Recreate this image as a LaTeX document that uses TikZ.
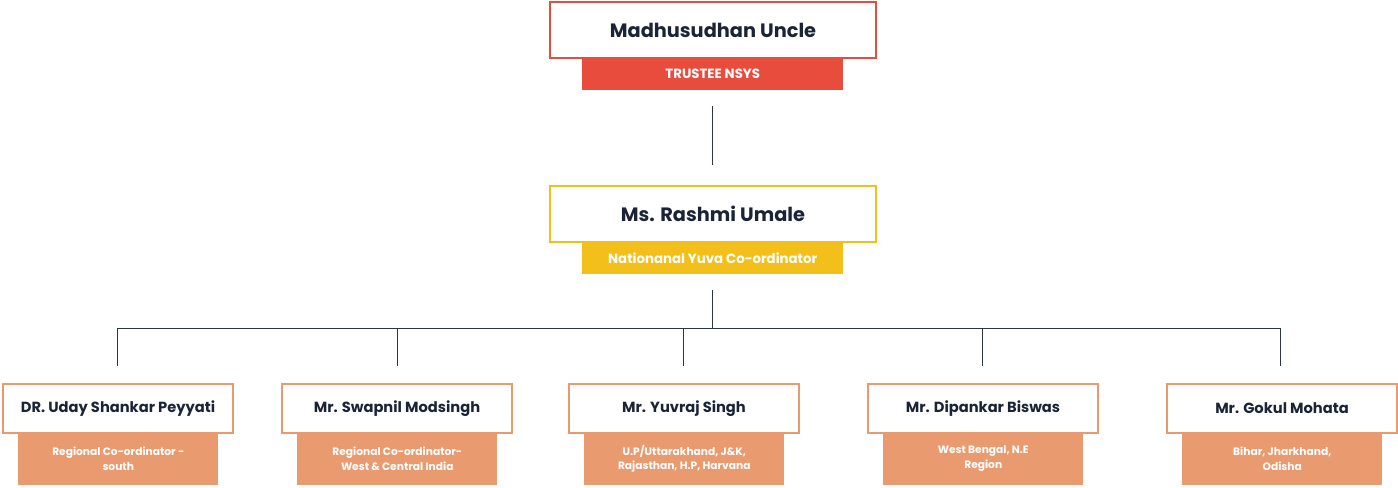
\documentclass[tikz,border=0pt]{standalone}
\usepackage{fontspec}
\setmainfont{Poppins}
\definecolor{tred}{HTML}{E84C3D}
\definecolor{tyel}{HTML}{F2BF1B}
\definecolor{tora}{HTML}{E99A6F}
\definecolor{tink}{HTML}{1B2437}
\definecolor{tline}{HTML}{2C3547}
\begin{document}
\begin{tikzpicture}[x=0.75pt,y=-0.75pt,
  box/.style={draw=#1,line width=1.5pt,fill=white,text=tink,font=\bfseries\fontsize{11}{13}\selectfont,inner sep=0,anchor=north west},
  lab/.style={fill=#1,text=white,font=\bfseries\fontsize{8}{11}\selectfont,inner sep=0,anchor=north west,align=center},
  conn/.style={draw=tline,line width=0.6pt}]
\useasboundingbox (0,0) rectangle (1398,487);
\node[box=tred,minimum width=326*0.75pt,minimum height=56*0.75pt,font=\bfseries\fontsize{14.5}{17}\selectfont] (a) at (549,1) {Madhusudhan Uncle};
\node[lab=tred,minimum width=261*0.75pt,minimum height=32*0.75pt,font=\bfseries\fontsize{10}{12}\selectfont] (al) at (582,58) {TRUSTEE NSYS};
\node[box=tyel,minimum width=326*0.75pt,minimum height=56*0.75pt,font=\bfseries\fontsize{14.5}{17}\selectfont] (b) at (549,185) {Ms. Rashmi Umale};
\node[lab=tyel,minimum width=261*0.75pt,minimum height=32*0.75pt,font=\bfseries\fontsize{10}{12}\selectfont] (bl) at (582,242) {Nationanal Yuva Co-ordinator};
\coordinate (t1) at (712,106); \coordinate (t2) at (712,165);
\draw[conn] (t1)--(t2);
\coordinate (u1) at (712,290); \coordinate (u2) at (712,328);
\draw[conn] (u1)--(u2);
\coordinate (h1) at (117,328); \coordinate (h2) at (1280,328);
\draw[conn] (h1)--(h2);
\foreach \i/\x/\n/\l in {1/2/{DR. Uday Shankar Peyyati}/{Regional Co-ordinator -\\south},
  2/281/{Mr. Swapnil Modsingh}/{Regional Co-ordinator-\\West \& Central India},
  3/568/{Mr. Yuvraj Singh}/{U.P/Uttarakhand, J\&K,\\Rajasthan, H.P, Harvana},
  4/867/{Mr. Dipankar Biswas}/{West Bengal, N.E\\Region},
  5/1166/{Mr. Gokul Mohata}/{Bihar, Jharkhand,\\Odisha}}{
  \node[box=tora,minimum width=230*0.75pt,minimum height=49*0.75pt] (c\i) at (\x,383) {\n};
  \node[lab=tora,minimum width=200*0.75pt,minimum height=53*0.75pt] (l\i) at (\x+16,432) {\l};
}
\foreach \i/\x in {1/117,2/397,3/683,4/982,5/1280}{
  \coordinate (v\i) at (\x,328); \coordinate (w\i) at (\x,366);
  \draw[conn] (v\i)--(w\i);
}
\end{tikzpicture}
\end{document}
